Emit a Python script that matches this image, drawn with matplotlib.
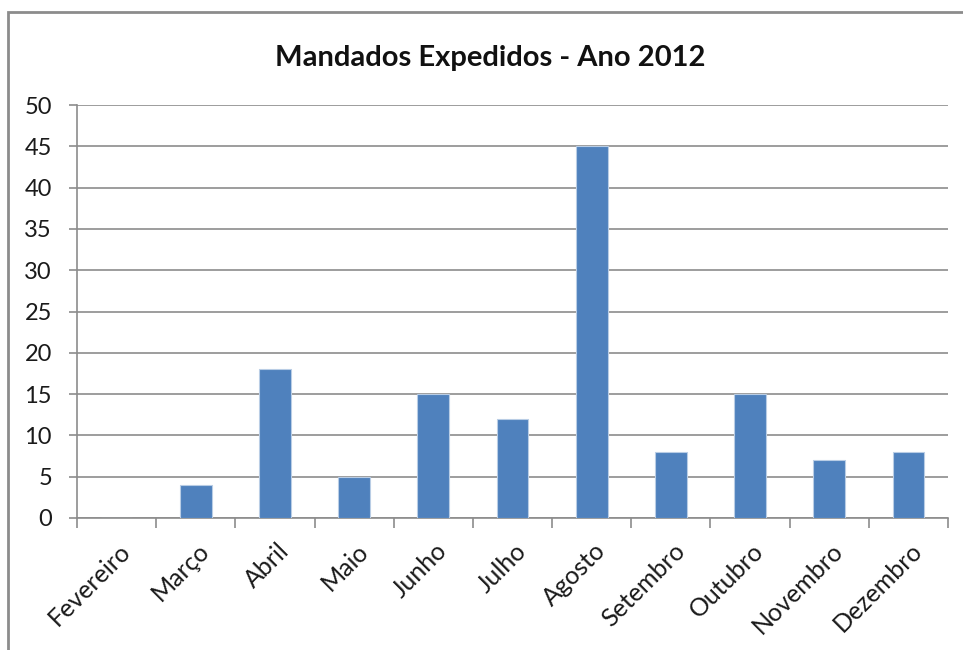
import matplotlib.pyplot as plt
from matplotlib.patches import Rectangle
from matplotlib.transforms import ScaledTranslation
import numpy as np

meses = ['Fevereiro', 'Março', 'Abril', 'Maio', 'Junho', 'Julho', 'Agosto',
         'Setembro', 'Outubro', 'Novembro', 'Dezembro']
mandados = [0, 4, 18, 5, 15, 12, 45, 8, 15, 7, 8]
y_ticks = [0, 5, 10, 15, 20, 25, 30, 35, 40, 45, 50]

plt.rcParams['font.family'] = ['Lato', 'DejaVu Sans']

W, H = 963, 650
fig = plt.figure(figsize=(W / 100, H / 100), dpi=100)

# outer chart frame (only left and top edges show)
fig.patches.append(Rectangle((8 / W, -0.1), 1.2, 1 - 12 / H + 0.1,
                             transform=fig.transFigure, fill=False,
                             edgecolor='#8c8c8c', linewidth=2))

ax = fig.add_axes([77 / W, (H - 518) / H, 871 / W, 413 / H])
x = np.arange(len(meses))
ax.bar(x, mandados, width=0.4, color='#4f81bd', edgecolor='#b9cde5',
       linewidth=0.8, zorder=3)

ax.set_xlim(-0.5, len(meses) - 0.5)
ax.set_ylim(0, 50)
ax.set_yticks(y_ticks)
ax.yaxis.grid(True, color='#8c8c8c', linewidth=1.2)
ax.set_axisbelow(True)

for s in ['top', 'right']:
    ax.spines[s].set_visible(False)
for s in ['left', 'bottom']:
    ax.spines[s].set_color('#8c8c8c')
    ax.spines[s].set_linewidth(1.2)

ax.tick_params(axis='y', length=6, color='#8c8c8c', width=1.2,
               labelsize=17, pad=12, labelcolor='#1a1a1a')
ax.set_xticks(np.arange(len(meses) + 1) - 0.5, minor=True)
ax.set_xticks(x)
ax.set_xticklabels(meses, rotation=45, ha='right', rotation_mode='anchor',
                   fontsize=18, color='#1a1a1a')
ax.tick_params(axis='x', which='major', length=0, pad=15)
ax.tick_params(axis='x', which='minor', length=7, color='#8c8c8c', width=1.2)
off = ScaledTranslation(2 / 100, 0, fig.dpi_scale_trans)
for lbl in ax.get_xticklabels():
    lbl.set_transform(lbl.get_transform() + off)

fig.text(490 / W, 1 - 58 / H, 'Mandados Expedidos - Ano 2012', ha='center',
         va='center', fontsize=21, fontweight='bold', color='#111111')

fig.savefig('out.png', dpi=100)
